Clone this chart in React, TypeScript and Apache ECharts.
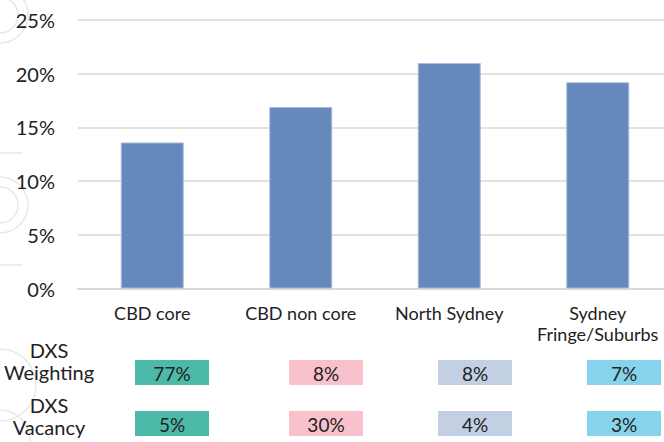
import React, { useEffect, useRef } from "react";
import * as echarts from "echarts";

const categories = ["CBD core", "CBD non core", "North Sydney", "Sydney\nFringe/Suburbs"];
const values = [13.6, 16.9, 21.0, 19.2];
const yTicks = { min: 0, max: 25, interval: 5 };
const weighting = [77, 8, 8, 7];
const vacancy = [5, 30, 4, 3];
const rowLabels = ["DXS\nWeighting", "DXS\nVacancy"];
const cellColors = ["#4DB9A9", "#F9C1CC", "#C3D0E3", "#86D3EC"];

const FONT = "Lato";

export default function App() {
  const ref = useRef<HTMLDivElement>(null);
  useEffect(() => {
    if (!ref.current) return;
    const chart = echarts.init(ref.current, null, { renderer: "svg" });
    const boxX = [135, 289, 438, 587];
    const boxW = 74;
    const boxH = 25;
    const rowsY = [360, 411];
    const wm = { fill: "none", stroke: "#E8E8E8", lineWidth: 1.5 };
    const graphics: any[] = [
      { type: "arc", shape: { cx: 0, cy: 15, r: 28, startAngle: -Math.PI / 2, endAngle: Math.PI / 2 }, style: wm, z: -1 },
      { type: "arc", shape: { cx: 0, cy: 15, r: 18, startAngle: -Math.PI / 2, endAngle: Math.PI / 2 }, style: wm, z: -1 },
      { type: "line", shape: { x1: 0, y1: 153, x2: 22, y2: 153 }, style: wm, z: -1 },
      { type: "arc", shape: { cx: 0, cy: 205, r: 28, startAngle: -Math.PI / 2, endAngle: Math.PI / 2 }, style: wm, z: -1 },
      { type: "arc", shape: { cx: 0, cy: 205, r: 18, startAngle: -Math.PI / 2, endAngle: Math.PI / 2 }, style: wm, z: -1 },
      { type: "line", shape: { x1: 0, y1: 265, x2: 22, y2: 265 }, style: wm, z: -1 },
      { type: "arc", shape: { cx: 0, cy: 385, r: 36, startAngle: -Math.PI / 2, endAngle: Math.PI / 2 }, style: wm, z: -1 },
      { type: "arc", shape: { cx: 0, cy: 440, r: 30, startAngle: -Math.PI / 2, endAngle: Math.PI / 2 }, style: wm, z: -1 },
    ];
    [weighting, vacancy].forEach((row, r) => {
      row.forEach((v, i) => {
        graphics.push({
          type: "rect",
          shape: { x: boxX[i], y: rowsY[r], width: boxW, height: boxH },
          style: { fill: cellColors[i] },
        });
        graphics.push({
          type: "text",
          x: boxX[i] + boxW / 2,
          y: rowsY[r] + boxH / 2 + 1,
          style: {
            text: v + "%",
            fill: "#222",
            font: `19px ${FONT}`,
            align: "center",
            verticalAlign: "middle",
          },
        });
      });
    });
    rowLabels.forEach((t, r) => {
      graphics.push({
        type: "text",
        x: 49,
        y: [361, 416][r],
        style: {
          text: t,
          fill: "#222",
          font: `20px ${FONT}`,
          align: "center",
          verticalAlign: "middle",
          lineHeight: 22,
        },
      });
    });

    chart.setOption({
      animation: false,
      grid: { left: 78, top: 20, width: 594, height: 268.5, containLabel: false },
      xAxis: {
        type: "category",
        data: categories,
        axisLine: { lineStyle: { color: "#D9D9D9", width: 2 } },
        axisTick: { show: false },
        axisLabel: {
          color: "#222",
          fontFamily: FONT,
          fontSize: 18,
          margin: 14,
          lineHeight: 21,
          interval: 0,
        },
      },
      yAxis: {
        type: "value",
        min: yTicks.min,
        max: yTicks.max,
        interval: yTicks.interval,
        axisLine: { show: false },
        axisTick: { show: false },
        splitLine: { lineStyle: { color: "#D9D9D9", width: 1.5 } },
        axisLabel: {
          formatter: "{value}%",
          color: "#222",
          fontFamily: FONT,
          fontSize: 20,
          margin: 23,
        },
      },
      series: [
        {
          type: "bar",
          data: values,
          barWidth: 63,
          itemStyle: { color: "#6689BD", borderColor: "#A9BDDA", borderWidth: 1 },
        },
      ],
      graphic: graphics,
    });
    return () => chart.dispose();
  }, []);
  return (
    <div style={{ position: "fixed", left: 0, top: 0, width: 664, height: 442, overflow: "hidden", background: "#fff" }}>
      <div ref={ref} style={{ width: 680, height: 442 }} />
    </div>
  );
}
